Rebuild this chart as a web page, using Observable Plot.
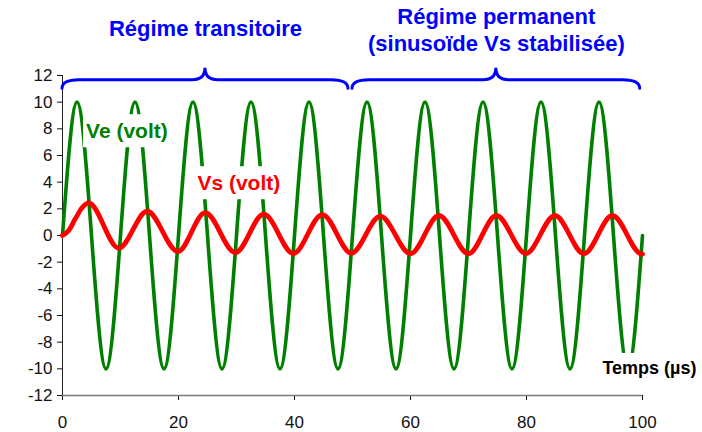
<!DOCTYPE html>
<html><head><meta charset="utf-8">
<script src="https://cdn.jsdelivr.net/npm/d3@7"></script>
<script src="https://cdn.jsdelivr.net/npm/@observablehq/plot@0.6"></script>
<style>
body{margin:0;background:#fff;}
svg{display:block;}
</style>
</head><body><div id="chart"></div>
<script>
// ---- data ----
const veTime  = [0, 2.5, 7.5, 12.5, 17.5, 22.5, 27.5, 32.5, 37.5, 42.5, 47.5, 52.5, 57.5, 62.5, 67.5, 72.5, 77.5, 82.5, 87.5, 92.5, 97.5, 100];
const veValue = [0, 10, -10, 10, -10, 10, -10, 10, -10, 10, -10, 10, -10, 10, -10, 10, -10, 10, -10, 10, -10, 0];

const vsTime  = [0, 1.1, 2.2, 3.4, 4.5, 9.7, 14.6, 19.9, 24.6, 29.8, 34.7, 39.8, 44.8, 49.8, 54.8, 60.0, 64.9, 70.0, 74.8, 79.9, 84.9, 89.9, 94.8, 99.9, 100];
const vsValue = [0, 0.4, 1.25, 2.1, 2.45, -0.95, 1.82, -1.2, 1.72, -1.28, 1.6, -1.35, 1.57, -1.33, 1.45, -1.37, 1.5, -1.37, 1.5, -1.35, 1.5, -1.37, 1.5, -1.4, -1.4];

const xTicks = [0, 20, 40, 60, 80, 100];
const yTicks = [-12, -10, -8, -6, -4, -2, 0, 2, 4, 6, 8, 10, 12];

const regimeStart = [0, 50];
const regimeEnd   = [49.3, 99.6];
const regimeTitleLines = [["Régime transitoire"], ["Régime permanent", "(sinusoïde Vs stabilisée)"]];

const seriesNames  = ["Ve (volt)", "Vs (volt)"];
const seriesLabelX = [11.1, 30.4];
const seriesLabelY = [7.8, 3.9];
const axisTitle = "Temps (µs)";

// ---- tables built from the arrays ----
const ve = veTime.map((t, i) => ({t, v: veValue[i]}));
const vs = vsTime.map((t, i) => ({t, v: vsValue[i]}));
const seriesLabels = seriesNames.map((name, i) => ({name, x: seriesLabelX[i], y: seriesLabelY[i]}));
const titles = [];
regimeTitleLines.forEach((lines, i) => {
  const mid = (regimeStart[i] + regimeEnd[i]) / 2;
  lines.forEach((text, j) => titles.push({text, x: mid, line: j, count: lines.length}));
});

const FONT = "'Liberation Sans', Arial, sans-serif";
const colors = {ve: "#008000", vs: "#ff0000", blue: "#0000ff"};
const titleStyle = {x: "x", y: 12, text: "text", fill: colors.blue, fontWeight: "bold", fontSize: 22};

const chart = Plot.plot({
  width: 702,
  height: 432,
  marginLeft: 62,
  marginRight: 60,
  marginTop: 75,
  marginBottom: 37,
  style: {fontFamily: FONT, fontSize: "17px", color: "#111", background: "#fff", overflow: "visible"},
  x: {domain: [0, 100], ticks: xTicks, tickSize: 5, tickPadding: 15, label: null, tickFormat: d => String(d)},
  y: {domain: [-12, 12], ticks: yTicks, tickSize: 5, tickPadding: 5, label: null, tickFormat: d => String(d)},
  marks: [
    Plot.ruleY([-12], {stroke: "#7a7a7a", strokeWidth: 1.5}),
    Plot.ruleX([0], {stroke: "#222", strokeWidth: 1}),
    Plot.line(ve, {x: "t", y: "v", stroke: colors.ve, strokeWidth: 3.6, curve: "monotone-x"}),
    Plot.line(vs, {x: "t", y: "v", stroke: colors.vs, strokeWidth: 4.8, curve: "monotone-x"}),
    Plot.text(seriesLabels, {x: "x", y: "y", text: "name", fill: (d, i) => i === 0 ? colors.ve : colors.vs,
      fontWeight: "bold", fontSize: 21}),
    Plot.text([axisTitle], {x: 100, y: -9.95, text: d => d, textAnchor: "end", dx: 54, fill: "#000",
      fontWeight: "bold", fontSize: 18}),
    Plot.text(titles.filter(d => d.count === 1), {...titleStyle, dy: -47}),
    Plot.text(titles.filter(d => d.count > 1 && d.line === 0), {...titleStyle, dy: -59}),
    Plot.text(titles.filter(d => d.count > 1 && d.line === 1), {...titleStyle, dy: -32})
  ]
});

document.getElementById("chart").appendChild(chart);

// white boxes behind the series labels and axis title
const boxed = new Set([...seriesNames, axisTitle]);
chart.querySelectorAll("text").forEach(el => {
  if (!boxed.has(el.textContent)) return;
  const b = el.getBBox();
  const r = document.createElementNS("http://www.w3.org/2000/svg", "rect");
  r.setAttribute("x", b.x - 3);
  r.setAttribute("y", b.y - 5);
  r.setAttribute("width", b.width + 6);
  r.setAttribute("height", b.height + 10);
  r.setAttribute("fill", "#fff");
  const tr = el.getAttribute("transform");
  if (tr) r.setAttribute("transform", tr);
  el.parentNode.insertBefore(r, el);
});

// curly braces over each regime, placed with the chart's own scales
const sx = chart.scale("x"), sy = chart.scale("y");
const yBase = sy.apply(11.65), yTip = sy.apply(12.55), yEnd = sy.apply(11.0);
regimeStart.forEach((s, i) => {
  const x0 = sx.apply(s), x1 = sx.apply(regimeEnd[i]), xm = (x0 + x1) / 2;
  const r = 17, c = 13;
  const d = `M${x0},${yEnd} Q${x0},${yBase} ${x0 + r},${yBase} L${xm - c},${yBase} Q${xm},${yBase} ${xm},${yTip} ` +
            `Q${xm},${yBase} ${xm + c},${yBase} L${x1 - r},${yBase} Q${x1},${yBase} ${x1},${yEnd}`;
  const p = document.createElementNS("http://www.w3.org/2000/svg", "path");
  p.setAttribute("d", d);
  p.setAttribute("fill", "none");
  p.setAttribute("stroke", colors.blue);
  p.setAttribute("stroke-width", 3);
  p.setAttribute("stroke-linecap", "round");
  chart.appendChild(p);
});
</script>
</body></html>
